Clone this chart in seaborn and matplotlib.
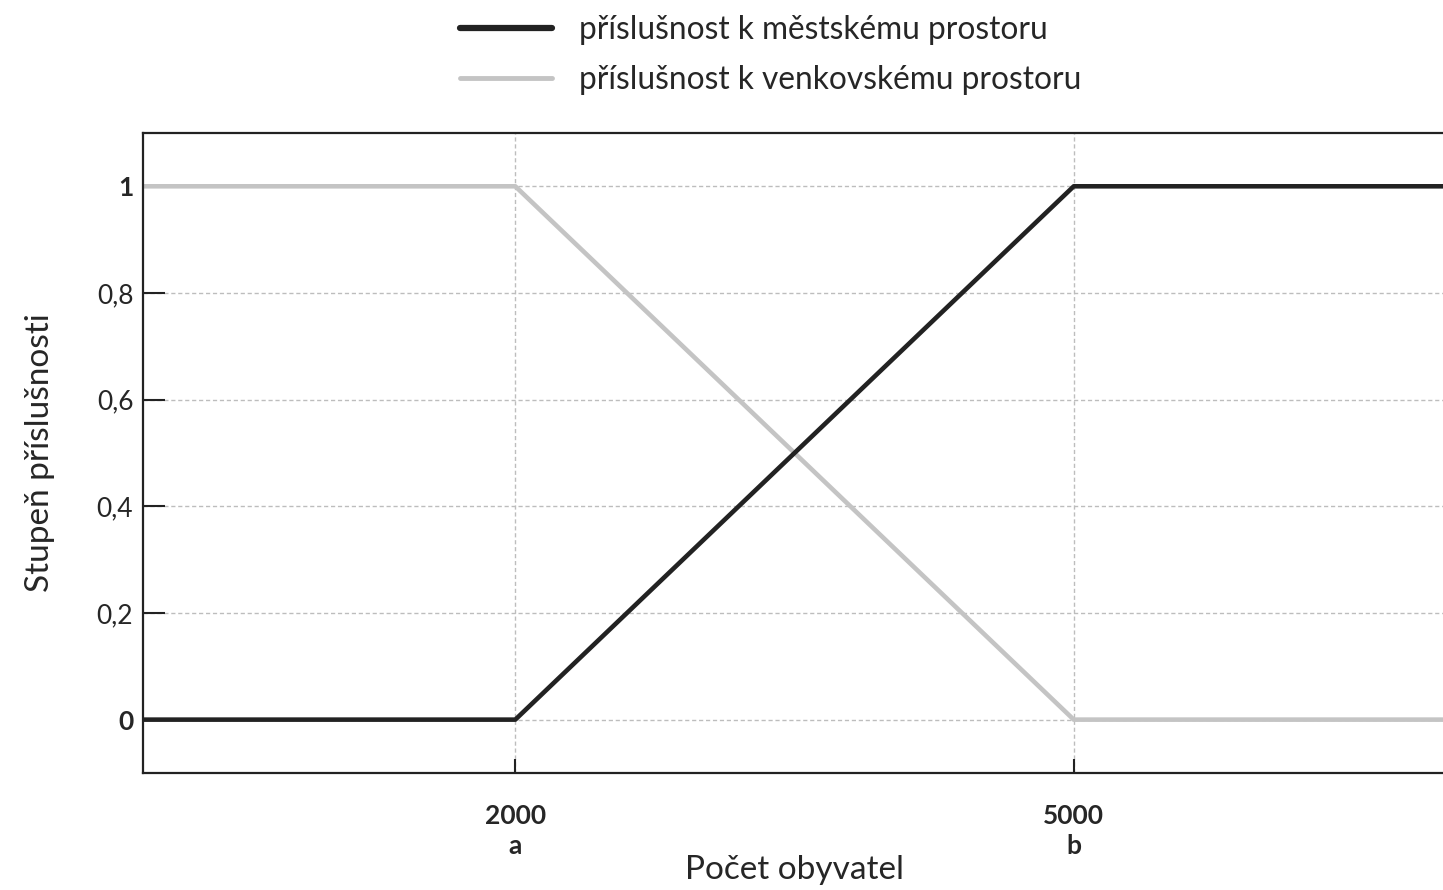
import pandas as pd
import matplotlib.pyplot as plt
import seaborn as sns

# values
pocet = [0, 2000, 5000, 7000]
mestsky = [0, 0, 1, 1]
venkovsky = [1, 1, 0, 0]
nazev_m = 'příslušnost k městskému prostoru'
nazev_v = 'příslušnost k venkovskému prostoru'
x_ticks = [2000, 5000]
x_labels = ['2000\na', '5000\nb']
y_ticks = [0, 0.2, 0.4, 0.6, 0.8, 1]
y_labels = ['0', '0,2', '0,4', '0,6', '0,8', '1']

data = pd.concat([
    pd.DataFrame({'x': pocet, 'y': venkovsky, 'typ': nazev_v}),
    pd.DataFrame({'x': pocet, 'y': mestsky, 'typ': nazev_m}),
])

sns.set_style('white')
plt.rcParams['font.family'] = ['Lato', 'DejaVu Sans']

fig = plt.figure(figsize=(14.43, 8.9), dpi=100)
ax = fig.add_axes([0.0991, 0.1315, 0.903, 0.7191])

sns.lineplot(data=data, x='x', y='y', hue='typ', hue_order=[nazev_v, nazev_m],
             palette={nazev_m: '#222222', nazev_v: '#c4c4c4'},
             linewidth=3.3, ax=ax, legend=False)

ax.set_xlim(0, 7000)
ax.set_ylim(-0.1, 1.1)
ax.set_xticks(x_ticks)
ax.set_xticklabels(x_labels, fontsize=19, fontweight='bold', linespacing=1.3)
ax.set_yticks(y_ticks)
ax.set_yticklabels(y_labels, fontsize=19)
for lab in ax.get_yticklabels():
    if lab.get_text() in ('0', '1'):
        lab.set_fontweight('bold')

ax.tick_params(axis='y', left=True, direction='in', length=16, width=1.5, color='#222222', pad=7)
ax.tick_params(axis='x', bottom=True, direction='in', length=10, width=1.5, color='#222222', pad=22)
ax.grid(True, linestyle=(0, (3, 2)), color='#bdbdbd', linewidth=1)

for s in ['left', 'bottom', 'top']:
    ax.spines[s].set_color('#222222')
    ax.spines[s].set_linewidth(1.6)
ax.spines['right'].set_visible(False)

ax.set_xlabel('Počet obyvatel', fontsize=24, labelpad=-2)
ax.set_ylabel('Stupeň příslušnosti', fontsize=24, labelpad=30)

handles = [plt.Line2D([], [], color='#222222', linewidth=4.5),
           plt.Line2D([], [], color='#c4c4c4', linewidth=3.5)]
fig.legend(handles, [nazev_m, nazev_v], loc='upper center', bbox_to_anchor=(0.534, 1.015),
           frameon=False, fontsize=22.8, handlelength=2.9, handletextpad=0.85,
           labelspacing=0.62)

plt.savefig('out.png', dpi=100)
